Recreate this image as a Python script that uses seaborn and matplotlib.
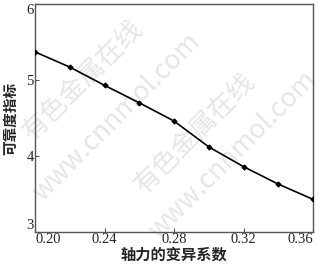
import matplotlib
matplotlib.use("Agg")
import matplotlib.pyplot as plt
import seaborn as sns
import pandas as pd

x_vals = [0.20, 0.22, 0.24, 0.26, 0.28, 0.30, 0.32, 0.34, 0.36]
y_vals = [5.37, 5.17, 4.93, 4.70, 4.46, 4.12, 3.86, 3.63, 3.43]
x_ticks = [0.20, 0.24, 0.28, 0.32, 0.36]
x_ticklabels = ["0.20", "0.24", "0.28", "0.32", "0.36"]
y_ticks = [3, 4, 5, 6]
x_label = "轴力的变异系数"
y_label = "可靠度指标"
wm_cn = "有色金属在线"
wm_en = "www.cnnmol.com"

sns.set_style("ticks")
plt.rcParams['font.family'] = ['Liberation Serif', 'Noto Sans CJK SC']

df = pd.DataFrame({"x": x_vals, "y": y_vals})
fig = plt.figure(figsize=(3.23, 2.67), dpi=100)
ax = fig.add_axes([35/323, 35/267, (313-35)/323, (232-4)/267])
ax.set_zorder(2)

# watermark
W, H = 323, 267
for (cx, cy, txt, fs) in [(83, 80, wm_cn, 19), (117, 117, wm_en, 19),
                          (195, 133, wm_cn, 19), (233, 155, wm_en, 19)]:
    fig.text(cx/W, 1-cy/H, txt, rotation=45, ha='center', va='center',
             fontsize=fs, color='#e6e6e6', family=['Noto Sans CJK SC', 'DejaVu Sans'],
             zorder=0)

sns.lineplot(data=df, x="x", y="y", ax=ax, color='black', linewidth=1.2,
             marker='D', markersize=2.6, markeredgecolor='black', zorder=3)
ax.patch.set_alpha(0)
ax.set_xlim(0.20, 0.36)
ax.set_ylim(3, 6)
ax.set_xticks(x_ticks)
ax.set_xticklabels(x_ticklabels)
ax.set_yticks(y_ticks)
ax.tick_params(direction='in', length=3, width=0.8, labelsize=10.5, pad=1,
               color='#555555')
labs = ax.get_xticklabels()
labs[0].set_ha('left')
labs[-1].set_ha('right')
ylabs = ax.get_yticklabels()
ylabs[0].set_va('bottom')
ylabs[-1].set_va('top')
for s in ax.spines.values():
    s.set_visible(True)
    s.set_color('#555555')
    s.set_linewidth(1.0)
ax.set_xlabel(x_label, family=['Noto Sans CJK SC'], fontsize=11, fontweight='bold', labelpad=0)
ax.set_ylabel(y_label, family=['Noto Sans CJK SC'], fontsize=10.5, fontweight='bold', labelpad=6)
fig.savefig("out.png", dpi=100)
